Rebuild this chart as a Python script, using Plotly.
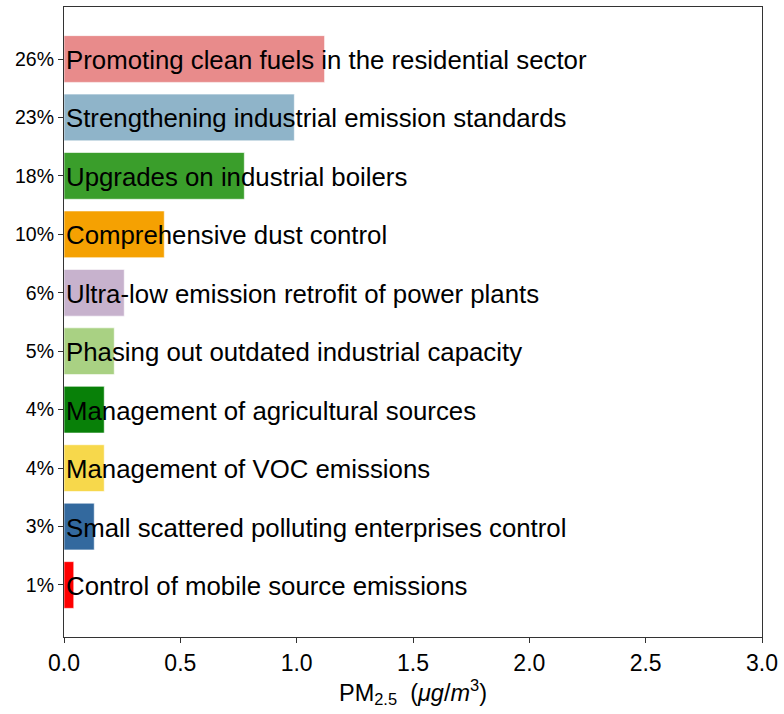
import plotly.graph_objects as go

measures = [
    "Promoting clean fuels in the residential sector",
    "Strengthening industrial emission standards",
    "Upgrades on industrial boilers",
    "Comprehensive dust control",
    "Ultra-low emission retrofit of power plants",
    "Phasing out outdated industrial capacity",
    "Management of agricultural sources",
    "Management of VOC emissions",
    "Small scattered polluting enterprises control",
    "Control of mobile source emissions",
]
values = [1.12, 0.99, 0.775, 0.431, 0.259, 0.216, 0.173, 0.173, 0.130, 0.042]
percent_labels = ["26%", "23%", "18%", "10%", "6%", "5%", "4%", "4%", "3%", "1%"]
colors = ["#e88b8b", "#8fb4c9", "#3a9e2b", "#f5a102", "#c7b2cd",
          "#a9d183", "#088008", "#f7d84b", "#33699e", "#fe0000"]

n = len(measures)
ypos = [n - 1 - i for i in range(n)]

fig = go.Figure()
fig.add_trace(go.Bar(
    x=values, y=ypos, orientation="h",
    marker=dict(color=colors, line=dict(color="rgba(255,255,255,0.6)", width=1)),
    width=0.8, showlegend=False, hoverinfo="skip",
))

for m, y in zip(measures, ypos):
    fig.add_annotation(x=0, y=y, text=m, showarrow=False, xanchor="left",
                       yanchor="middle", xshift=0, yshift=-1,
                       font=dict(family="Liberation Sans, Arial", size=25.8, color="black"))

fig.update_layout(
    width=784, height=714,
    margin=dict(l=64, r=22, t=7, b=77),
    plot_bgcolor="white", paper_bgcolor="white",
    font=dict(family="Liberation Sans, Arial", color="black"),
    bargap=0.2,
)
fig.update_xaxes(
    range=[0, 3.0], tickvals=[0, 0.5, 1.0, 1.5, 2.0, 2.5, 3.0],
    ticktext=["0.0", "0.5", "1.0", "1.5", "2.0", "2.5", "3.0"],
    ticks="outside", ticklen=5, tickcolor="#333", tickwidth=1,
    showline=True, linecolor="#333", linewidth=1.2, mirror=True,
    showgrid=False, zeroline=False, tickfont=dict(size=23),
    automargin=False,
    title=dict(text="PM<sub>2.5</sub>  (<i>μg</i>/<i>m</i><sup>3</sup>)",
               font=dict(size=23.5), standoff=6),
)
fig.update_yaxes(
    range=[-0.89, 9.89], tickvals=ypos, ticktext=percent_labels,
    ticks="outside", ticklen=5, tickcolor="#333", tickwidth=1,
    showline=True, linecolor="#333", linewidth=1.2, mirror=True,
    showgrid=False, zeroline=False, tickfont=dict(size=19.5),
    automargin=False,
)

fig.write_html("out.html", config={"displayModeBar": False},
               post_script="document.body.style.margin='0px';")
